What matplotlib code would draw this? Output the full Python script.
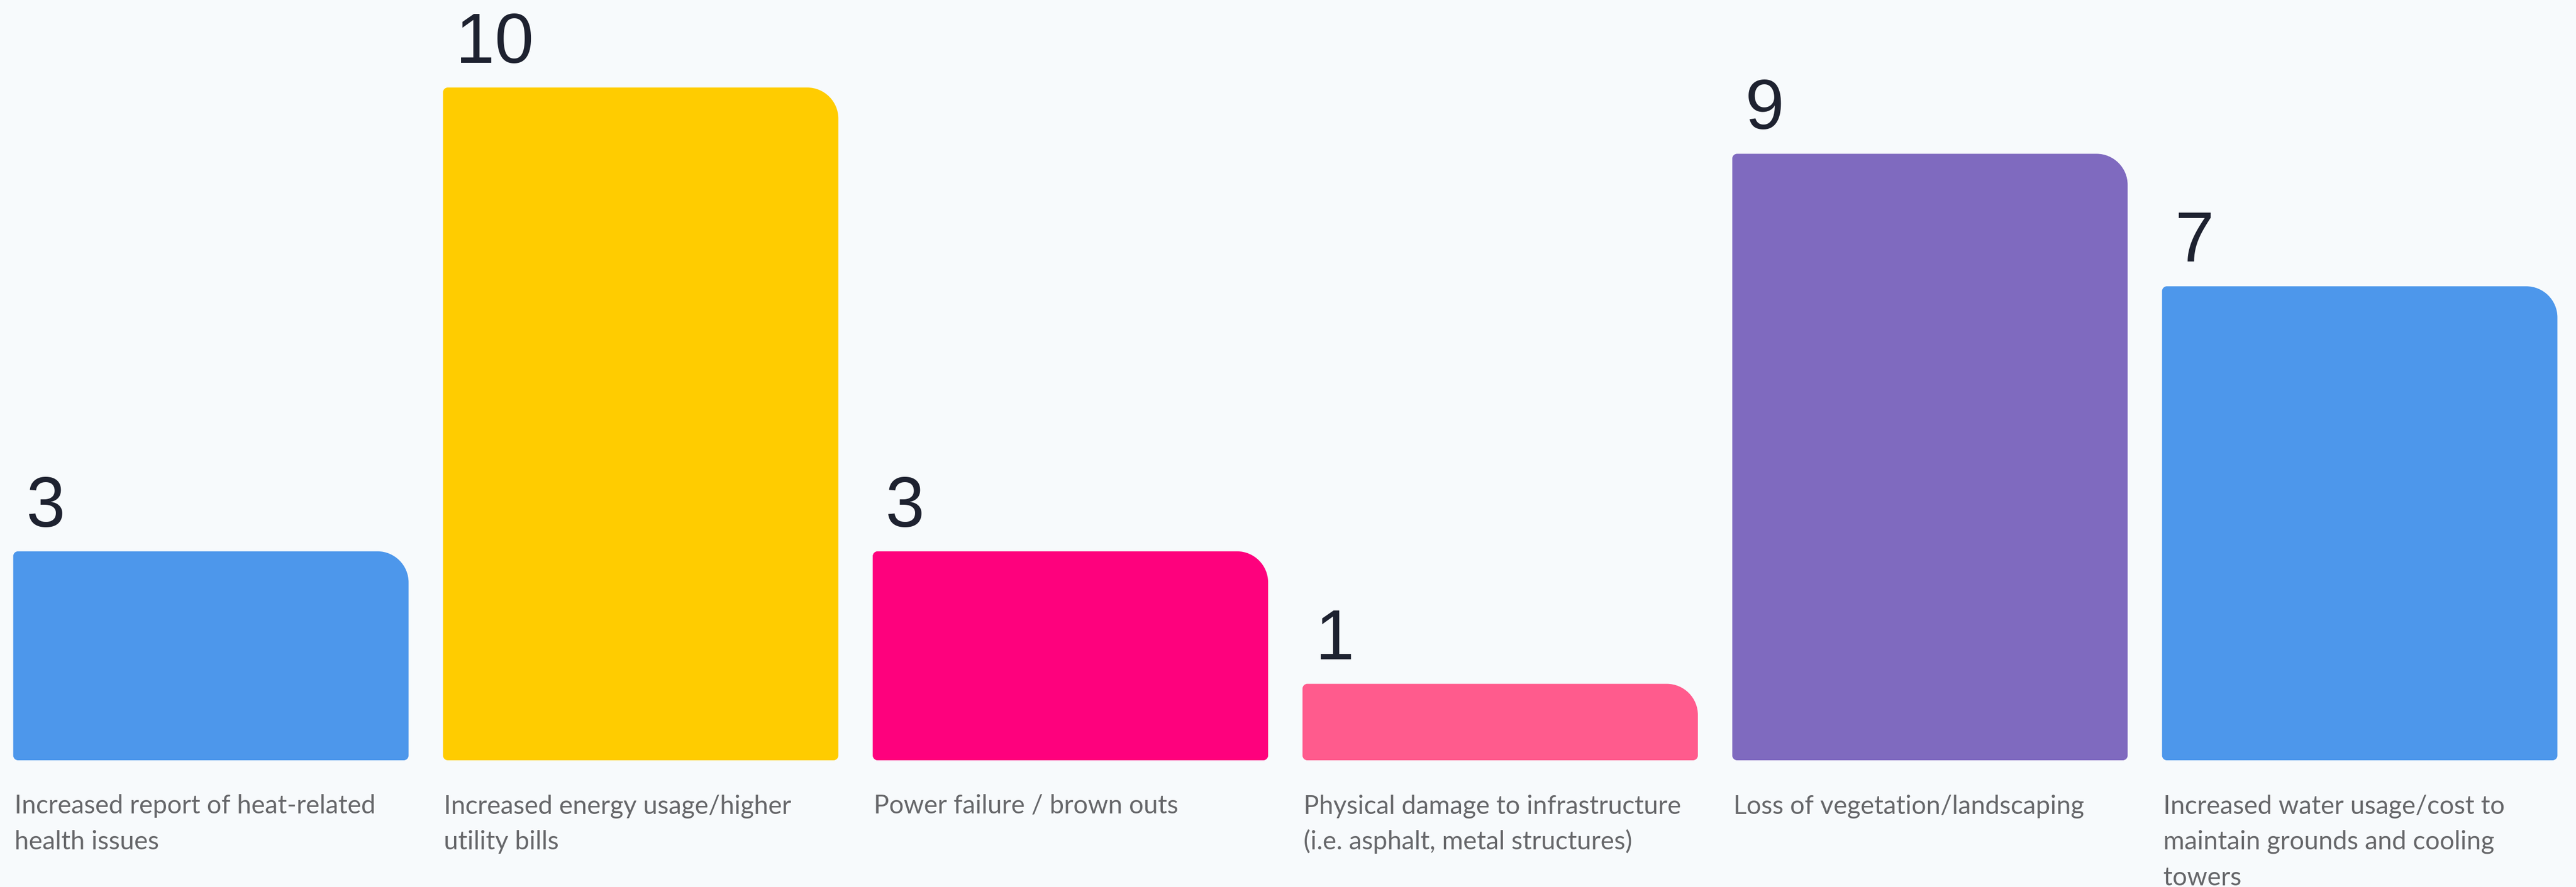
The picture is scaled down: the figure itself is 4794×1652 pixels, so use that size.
import matplotlib
matplotlib.use("Agg")
import matplotlib.pyplot as plt
from matplotlib.path import Path
from matplotlib.patches import PathPatch

# Survey responses: impacts of heat on the facility
categories = [
    "Increased report of heat-related\nhealth issues",
    "Increased energy usage/higher\nutility bills",
    "Power failure / brown outs",
    "Physical damage to infrastructure\n(i.e. asphalt, metal structures)",
    "Loss of vegetation/landscaping",
    "Increased water usage/cost to\nmaintain grounds and cooling\ntowers",
]
counts = [3, 10, 3, 1, 9, 7]
bar_colors = ["#4D97EB", "#FFCC00", "#FE017D", "#FF5B8D", "#7F6ABF", "#4D97EB"]

BG = "#F7FAFC"
W_PX, H_PX, DPI = 4794, 1652, 100

fig = plt.figure(figsize=(W_PX / DPI, H_PX / DPI), dpi=DPI, facecolor=BG)
ax = fig.add_axes([0, 0, 1, 1])
ax.set_facecolor(BG)

# scale: bar pitch in pixels and pixels per unit of count
pitch_px = 799.8
unit_px = 123.4
x0_px = 392.5          # centre of first bar
y0_px = 1652 - 1397    # pixel row of zero
ax.set_xlim(-x0_px / pitch_px, (W_PX - x0_px) / pitch_px)
ax.set_ylim(-y0_px / unit_px, (H_PX - y0_px) / unit_px)
ax.axis("off")

bar_width = 0.92
base = -19 / unit_px   # bars sit slightly below the zero line

bars = ax.bar(range(len(counts)), [c - base for c in counts], bottom=base,
              width=bar_width, color=bar_colors, alpha=0)

K = 0.5523
def rounded_bar(x, y, w, h, r_big, r_small):
    """Bar outline with a large top-right radius and small other corners (data units)."""
    rbx, rby = r_big / pitch_px, r_big / unit_px
    rsx, rsy = r_small / pitch_px, r_small / unit_px
    x1, y1 = x + w, y + h
    verts = [
        (x + rsx, y),
        (x1 - rsx, y),
        (x1 - rsx + K * rsx, y), (x1, y + rsy - K * rsy), (x1, y + rsy),
        (x1, y1 - rby),
        (x1, y1 - rby + K * rby), (x1 - rbx + K * rbx, y1), (x1 - rbx, y1),
        (x + rsx, y1),
        (x + rsx - K * rsx, y1), (x, y1 - rsy + K * rsy), (x, y1 - rsy),
        (x, y + rsy),
        (x, y + rsy - K * rsy), (x + rsx - K * rsx, y), (x + rsx, y),
        (x + rsx, y),
    ]
    codes = [Path.MOVETO, Path.LINETO,
             Path.CURVE4, Path.CURVE4, Path.CURVE4,
             Path.LINETO,
             Path.CURVE4, Path.CURVE4, Path.CURVE4,
             Path.LINETO,
             Path.CURVE4, Path.CURVE4, Path.CURVE4,
             Path.LINETO,
             Path.CURVE4, Path.CURVE4, Path.CURVE4,
             Path.CLOSEPOLY]
    return Path(verts, codes)

for rect, color, value, label in zip(bars, bar_colors, counts, categories):
    x, y = rect.get_x(), rect.get_y()
    w, h = rect.get_width(), rect.get_height()
    ax.add_patch(PathPatch(rounded_bar(x, y, w, h, 58, 9),
                           facecolor=color, edgecolor="none"))

    ax.annotate(str(value), xy=(x, value), xytext=(24, 46),
                textcoords="offset pixels", ha="left", va="baseline",
                fontsize=94, color="#1E2230", family="Liberation Sans")

    for j, line in enumerate(label.split("\n")):
        ax.annotate(line, xy=(x, 0), xytext=(2, -118 - 67 * j),
                    textcoords="offset pixels", ha="left", va="baseline",
                    fontsize=34.5, color="#66676A", family="Lato",
                    annotation_clip=False)

fig.savefig("out.png", dpi=DPI, facecolor=BG)
